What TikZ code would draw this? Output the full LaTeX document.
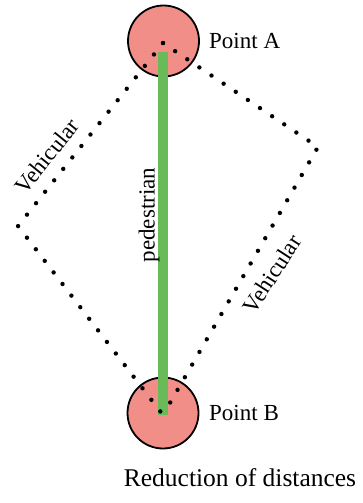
\documentclass[tikz,border=0pt]{standalone}
\usepackage{fontspec}
\setmainfont{Liberation Serif}
\definecolor{salmon}{RGB}{242,142,136}
\definecolor{walkgreen}{RGB}{104,187,88}
\tikzset{
  pointcircle/.style={circle, draw=black, line width=1.8pt, fill=salmon, minimum size=71pt, inner sep=0pt},
  dotpath/.style={line width=4.4pt, line cap=round, dash pattern=on 0pt off 14.6pt},
  walkline/.style={draw=walkgreen, line width=9.5pt},
  lbl/.style={font=\fontsize{23}{27}\selectfont, inner sep=0pt},
  captiontext/.style={font=\fontsize{25.5}{30}\selectfont, inner sep=0pt}
}
\begin{document}
\begin{tikzpicture}[x=1pt,y=-1pt]
\useasboundingbox (0,0) rectangle (362,503);
\node[pointcircle] (A) at (163.5,41) {};
\node[pointcircle] (B) at (163,413) {};
\coordinate (As) at (163,43);
\coordinate (Be) at (163,415);
\coordinate (As2) at (163,52);
\coordinate (L) at (18,226);
\coordinate (R) at (318,147);
\draw[walkline] (As2) -- (Be);
\draw[dotpath] (As) -- (L) -- (Be);
\draw[dotpath] (As) -- (R) -- (Be);
\node[lbl, anchor=west] (la) at (209,41) {Point A};
\node[lbl, anchor=west] (lb) at (209,413) {Point B};
\node[lbl, rotate=51] (v1) at (47,156) {Vehicular};
\node[lbl, rotate=57] (v2) at (272,274) {Vehicular};
\node[lbl, rotate=90] (p) at (149,215) {pedestrian};
\node[captiontext] (c) at (240,478) {Reduction of distances};
\end{tikzpicture}
\end{document}
